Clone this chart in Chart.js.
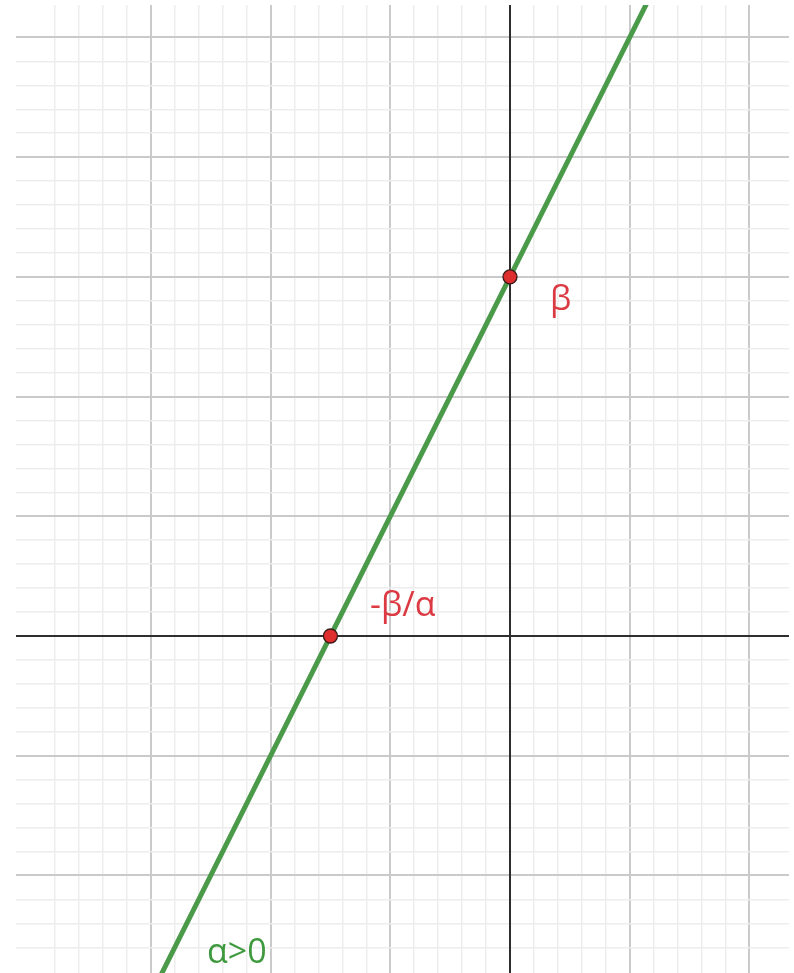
<!DOCTYPE html>
<html>
<head>
<meta charset="utf-8">
<script src="https://cdn.jsdelivr.net/npm/chart.js@4/dist/chart.umd.min.js"></script>
<style>
  html, body { margin: 0; padding: 0; background: #ffffff; overflow: hidden; }
  #wrap { width: 794px; height: 973px; position: relative; }
  canvas { display: block; }
</style>
</head>
<body>
<div id="wrap"><canvas id="c" width="794" height="973"></canvas></div>
<script>
// ---- data ----
const lineX = [-3, 1.5];          // line y = 2x + 3 (alpha = 2, beta = 3)
const lineY = [-3, 6];
const pointX = [0, -1.5];         // beta on y-axis, -beta/alpha on x-axis
const pointY = [3, 0];
const labelText = ['β', '-β/α', 'α>0'];
const labelX = [0.334, -1.17, -2.531];
const labelY = [2.723, 0.167, -2.732];
const labelKind = ['point', 'point', 'line'];

const X_MIN = -4.127, X_MAX = 2.331;
const Y_MIN = -2.815, Y_MAX = 5.271;

function isMinor(v) { return Math.abs(v * 5 - Math.round(v * 5)) < 1e-6; }
function isMajor(v) { return Math.abs(v - Math.round(v)) < 1e-6; }
function gridColor(ctx) {
  const v = ctx.tick ? ctx.tick.value : NaN;
  if (isMajor(v)) return '#cacaca';
  if (isMinor(v)) return '#ededed';
  return 'rgba(0,0,0,0)';
}
function gridWidth(ctx) {
  const v = ctx.tick ? ctx.tick.value : NaN;
  return isMajor(v) ? 2 : 1.5;
}

const axesPlugin = {
  id: 'axes',
  beforeDatasetsDraw(chart) {
    const { ctx, chartArea: a, scales: { x, y } } = chart;
    ctx.save();
    ctx.strokeStyle = '#2e2e2e';
    ctx.lineWidth = 2;
    const x0 = Math.round(x.getPixelForValue(0));
    const y0 = Math.round(y.getPixelForValue(0));
    ctx.beginPath();
    ctx.moveTo(a.left, y0); ctx.lineTo(a.right, y0);
    ctx.moveTo(x0, a.top); ctx.lineTo(x0, a.bottom);
    ctx.stroke();
    ctx.restore();
  }
};

const labelPlugin = {
  id: 'labels',
  afterDatasetsDraw(chart) {
    const { ctx, scales: { x, y } } = chart;
    ctx.save();
    ctx.font = '34px "Open Sans", "DejaVu Sans", sans-serif';
    ctx.textAlign = 'left';
    ctx.textBaseline = 'alphabetic';
    labelText.forEach((t, i) => {
      ctx.fillStyle = labelKind[i] === 'line' ? '#3f9a3f' : '#dc3a42';
      ctx.fillText(t, x.getPixelForValue(labelX[i]), y.getPixelForValue(labelY[i]));
    });
    ctx.restore();
  }
};

const gridScale = (min, max, horiz) => ({
  type: 'linear',
  min, max,
  border: { display: false },
  ticks: { display: false, stepSize: 0.2, maxTicksLimit: 1000, padding: 0 },
  grid: { drawTicks: false, tickLength: 0, color: gridColor, lineWidth: gridWidth },
  afterFit: (s) => { if (horiz) s.height = 0; else s.width = 0; }
});

const chart = new Chart(document.getElementById('c'), {
  type: 'scatter',
  data: {
    datasets: [
      {
        label: 'line',
        data: lineX.map((v, i) => ({ x: v, y: lineY[i] })),
        showLine: true,
        borderColor: '#4a9a4a',
        borderWidth: 5,
        pointRadius: 0,
        clip: 0,
        order: 2
      },
      {
        label: 'points',
        data: pointX.map((v, i) => ({ x: v, y: pointY[i] })),
        showLine: false,
        pointRadius: 7,
        backgroundColor: '#de2e2e',
        borderColor: '#3a1a1a',
        borderWidth: 1.3,
        clip: false,
        order: 1
      }
    ]
  },
  options: {
    responsive: false,
    animation: false,
    devicePixelRatio: 1,
    layout: { autoPadding: false, padding: { left: 16, top: 5, right: 5, bottom: 0 } },
    plugins: { legend: { display: false }, tooltip: { enabled: false } },
    scales: {
      x: gridScale(X_MIN, X_MAX, true),
      y: gridScale(Y_MIN, Y_MAX, false)
    }
  },
  plugins: [axesPlugin, labelPlugin]
});
</script>
</body>
</html>
